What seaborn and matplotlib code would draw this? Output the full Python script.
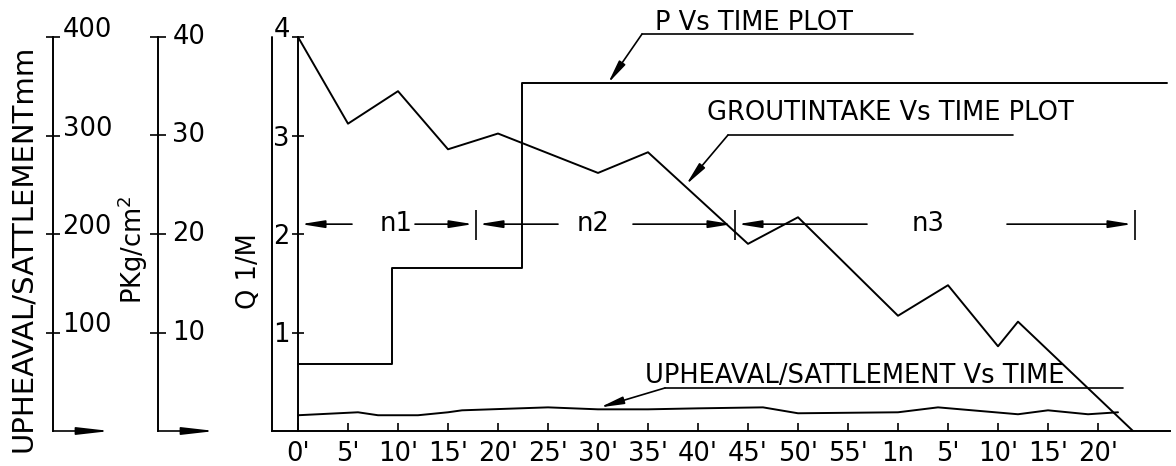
import matplotlib
matplotlib.use("Agg")
import matplotlib.pyplot as plt
import seaborn as sns

# time axis (minutes from start of injection)
tick_minutes = list(range(0, 85, 5))
tick_labels = ["0'", "5'", "10'", "15'", "20'", "25'", "30'", "35'", "40'",
               "45'", "50'", "55'", "1n", "5'", "10'", "15'", "20'"]

# grout intake Q (1/M)
grout_t = [0, 5, 10, 15, 20, 30, 35, 45, 50, 60, 65, 70, 72, 83.5]
grout_q = [4.0, 3.12, 3.45, 2.86, 3.02, 2.62, 2.83, 1.90, 2.17, 1.17, 1.48, 0.86, 1.11, 0.0]

# pressure P (kg/cm2), stepped
pres_t = [0, 9.4, 22.4, 86.9]
pres_p = [6.8, 16.5, 35.3, 35.3]

# upheaval / settlement (mm)
uph_t = [0, 6, 8, 12, 15, 16.4, 25, 30, 35, 40, 46.5, 50, 60, 64, 72, 75, 79, 82]
uph_mm = [16, 19, 16, 16, 19, 21, 24, 22, 22, 23, 24, 18, 19, 24, 17, 21, 17, 19]

# injection stages
stage_names = ["n1", "n2", "n3"]
stage_bounds = [0, 17.8, 43.7, 83.7]
stage_text_x = [9.8, 29.5, 63.0]
stage_gaps = [(5.4, 11.7), (26.0, 33.5), (56.9, 70.9)]

sns.set_style("white", {"axes.edgecolor": "black", "xtick.color": "black",
                        "ytick.color": "black", "text.color": "black",
                        "axes.labelcolor": "black"})
plt.rcParams["font.family"] = ["DejaVu Sans"]

W, H = 1176, 466
FS = 18.5
LW = 1.4
fig = plt.figure(figsize=(W / 100, H / 100), dpi=100)
bottom = (H - 431) / H
height = 394 / H

arrow = dict(arrowstyle="-|>,head_length=1.0,head_width=0.16", color="black",
             lw=1.2, shrinkA=0, shrinkB=0, mutation_scale=14)

# ---- main plot area ----
ax = fig.add_axes([272 / W, bottom, 898 / W, height])
ax_p = ax.twinx()
ax_u = ax.twinx()

sns.lineplot(x=grout_t, y=grout_q, ax=ax, color="black", lw=LW, estimator=None, sort=False)
sns.lineplot(x=pres_t, y=pres_p, ax=ax_p, color="black", lw=LW, estimator=None,
             sort=False, drawstyle="steps-post")
sns.lineplot(x=uph_t, y=uph_mm, ax=ax_u, color="black", lw=LW, estimator=None, sort=False)

ax.set_xlim(-2.6, 87.2)
ax.set_ylim(0, 4)
ax_p.set_ylim(0, 40)
ax_u.set_ylim(0, 400)
ax_p.axis("off")
ax_u.axis("off")

ax.spines[["top", "right"]].set_visible(False)
ax.spines["left"].set_position(("data", 0))
ax.spines["left"].set_bounds(0, 4)
for s in ("left", "bottom"):
    ax.spines[s].set_linewidth(LW)
ax.axvline(-2.6, color="black", lw=LW, clip_on=False)

ax.set_xticks(tick_minutes, tick_labels)
ax.set_yticks([1, 2, 3, 4], ["1", "2", "3", "4"])
ax.tick_params(axis="x", bottom=True, direction="in", length=6, width=1.2,
               labelsize=FS, pad=7)
ax.tick_params(axis="y", left=True, direction="inout", length=9, width=1.2,
               labelsize=FS, pad=1.5)
ax.get_yticklabels()[-1].set_va("baseline")
ax.set_xlabel("")
ax.set_ylabel("Q 1/M", fontsize=FS, ha="center", va="center")
ax.yaxis.set_label_coords(249 / W, 1 - 271 / H, transform=fig.transFigure)

# leaders
ax.text(35.7, 4.07, "P Vs TIME PLOT", fontsize=FS, va="baseline")
ax.plot([34.4, 61.5], [4.03, 4.03], color="black", lw=1.2, clip_on=False)
ax.annotate("", xy=(31.0, 3.53), xytext=(34.4, 4.03), arrowprops=arrow)

ax.text(40.9, 3.16, "GROUTINTAKE Vs TIME PLOT", fontsize=FS, va="baseline")
ax.plot([43.0, 71.5], [3.005, 3.005], color="black", lw=1.2)
ax.annotate("", xy=(38.8, 2.50), xytext=(43.0, 3.005), arrowprops=arrow)

ax.text(34.7, 0.487, "UPHEAVAL/SATTLEMENT Vs TIME", fontsize=FS, va="baseline")
ax.plot([36.7, 82.5], [0.437, 0.437], color="black", lw=1.2)
ax.annotate("", xy=(30.2, 0.24), xytext=(36.7, 0.437), arrowprops=arrow)

# stage dimension arrows
yn = 2.10
for name, x0, x1, tx, (g0, g1) in zip(stage_names, stage_bounds[:-1], stage_bounds[1:],
                                       stage_text_x, stage_gaps):
    ax.text(tx, yn, name, fontsize=FS, ha="center", va="center")
    ax.annotate("", xy=(x0 + 0.3, yn), xytext=(g0, yn), arrowprops=arrow)
    ax.annotate("", xy=(x1 - 0.3, yn), xytext=(g1, yn), arrowprops=arrow)
ax.vlines(stage_bounds[1:], 1.94, 2.24, color="black", lw=1.2)


# ---- side scales ----
def side_scale(x_px, top, ticks, label, label_xy, label_fs, tick_len, pad, va):
    a = fig.add_axes([x_px / W, bottom, 0.5 / W, height])
    a.set_ylim(0, top)
    a.set_xticks([])
    a.spines[["top", "right", "bottom"]].set_visible(False)
    a.spines["left"].set_linewidth(LW)
    a.set_yticks(ticks, [str(t) for t in ticks])
    a.tick_params(axis="y", left=True, right=False, labelleft=False, labelright=True,
                  direction="inout", length=tick_len, width=1.2, labelsize=FS, pad=pad)
    for lbl in a.get_yticklabels():
        lbl.set_va(va)
    a.set_ylabel(label, fontsize=label_fs, ha="center", va="center")
    a.yaxis.set_label_coords(label_xy[0] / W, 1 - label_xy[1] / H, transform=fig.transFigure)
    a.annotate("", xy=(x_px + 57, H - 431), xycoords="figure pixels",
               xytext=(x_px, H - 431), textcoords="figure pixels",
               arrowprops=dict(arrowstyle="-|>,head_length=1.4,head_width=0.16",
                               color="black", lw=1.2, shrinkA=0, shrinkB=0,
                               mutation_scale=14))
    return a


side_scale(53, 400, [100, 200, 300, 400], "UPHEAVAL/SATTLEMENTmm", (23, 248), 21,
           10, 1.5, "baseline")
side_scale(158, 40, [10, 20, 30, 40], "PKg/cm$^2$", (133, 250), FS, 12, 4, "center")

fig.savefig("out.png", dpi=100)
